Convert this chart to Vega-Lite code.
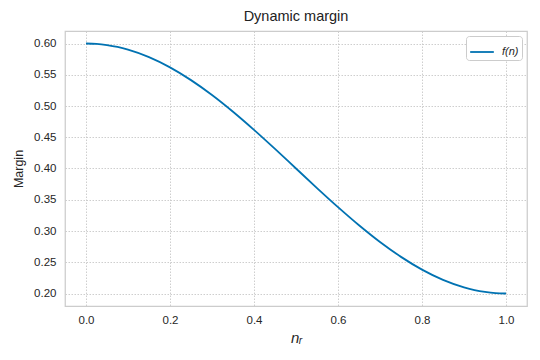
{
  "$schema": "https://vega.github.io/schema/vega-lite/v6.json",
  "width": 462,
  "height": 275,
  "autosize": "none",
  "padding": {"left": 65, "top": 31, "right": 13, "bottom": 54},
  "background": "white",
  "title": {"text": "Dynamic margin", "fontSize": 14.5, "fontWeight": "normal", "font": "Liberation Sans", "color": "#222222", "offset": 7},
  "config": {
    "font": "Liberation Sans",
    "view": {"stroke": "#cccccc", "strokeWidth": 1.25},
    "axis": {
      "domain": false,
      "ticks": false,
      "grid": true,
      "gridColor": "#c8c8c8",
      "gridDash": [1.5, 1.5],
      "gridWidth": 0.9,
      "labelFontSize": 11.5,
      "labelColor": "#262626",
      "titleFontSize": 12.5,
      "titleFontWeight": "normal",
      "titleColor": "#262626"
    }
  },
  "data": {
    "values": [
      {"n": 0.00, "f": 0.6000, "series": "f(n)"},
      {"n": 0.025, "f": 0.5994, "series": "f(n)"},
      {"n": 0.05, "f": 0.5975, "series": "f(n)"},
      {"n": 0.075, "f": 0.5945, "series": "f(n)"},
      {"n": 0.10, "f": 0.5902, "series": "f(n)"},
      {"n": 0.15, "f": 0.5782, "series": "f(n)"},
      {"n": 0.20, "f": 0.5618, "series": "f(n)"},
      {"n": 0.25, "f": 0.5414, "series": "f(n)"},
      {"n": 0.30, "f": 0.5176, "series": "f(n)"},
      {"n": 0.35, "f": 0.4908, "series": "f(n)"},
      {"n": 0.40, "f": 0.4618, "series": "f(n)"},
      {"n": 0.45, "f": 0.4313, "series": "f(n)"},
      {"n": 0.50, "f": 0.4000, "series": "f(n)"},
      {"n": 0.55, "f": 0.3687, "series": "f(n)"},
      {"n": 0.60, "f": 0.3382, "series": "f(n)"},
      {"n": 0.65, "f": 0.3092, "series": "f(n)"},
      {"n": 0.70, "f": 0.2824, "series": "f(n)"},
      {"n": 0.75, "f": 0.2586, "series": "f(n)"},
      {"n": 0.80, "f": 0.2382, "series": "f(n)"},
      {"n": 0.85, "f": 0.2218, "series": "f(n)"},
      {"n": 0.90, "f": 0.2098, "series": "f(n)"},
      {"n": 0.925, "f": 0.2055, "series": "f(n)"},
      {"n": 0.95, "f": 0.2025, "series": "f(n)"},
      {"n": 0.975, "f": 0.2006, "series": "f(n)"},
      {"n": 1.00, "f": 0.2000, "series": "f(n)"}
    ]
  },
  "mark": {"type": "line", "strokeWidth": 1.8, "interpolate": "monotone"},
  "encoding": {
    "x": {
      "field": "n", "type": "quantitative",
      "scale": {"domain": [-0.05, 1.05], "nice": false, "zero": false},
      "axis": {"values": [0, 0.2, 0.4, 0.6, 0.8, 1.0], "format": ".1f", "labelPadding": 8, "title": "nᵣ", "titleFontStyle": "italic", "titleFontSize": 15, "titlePadding": 5}
    },
    "y": {
      "field": "f", "type": "quantitative",
      "scale": {"domain": [0.18, 0.62], "nice": false, "zero": false},
      "axis": {"values": [0.2, 0.25, 0.3, 0.35, 0.4, 0.45, 0.5, 0.55, 0.6], "format": ".2f", "labelPadding": 9, "title": "Margin", "titlePadding": 8}
    },
    "color": {
      "field": "series", "type": "nominal",
      "scale": {"domain": ["f(n)"], "range": ["#0072B2"]},
      "legend": {
        "title": null,
        "orient": "top-right",
        "offset": 5,
        "symbolType": "stroke",
        "symbolSize": 560,
        "symbolStrokeWidth": 1.8,
        "labelOffset": 7,
        "labelFontStyle": "italic",
        "labelFontSize": 11,
        "labelColor": "#262626",
        "strokeColor": "#cccccc",
        "fillColor": "white",
        "cornerRadius": 3,
        "padding": 3
      }
    }
  }
}
